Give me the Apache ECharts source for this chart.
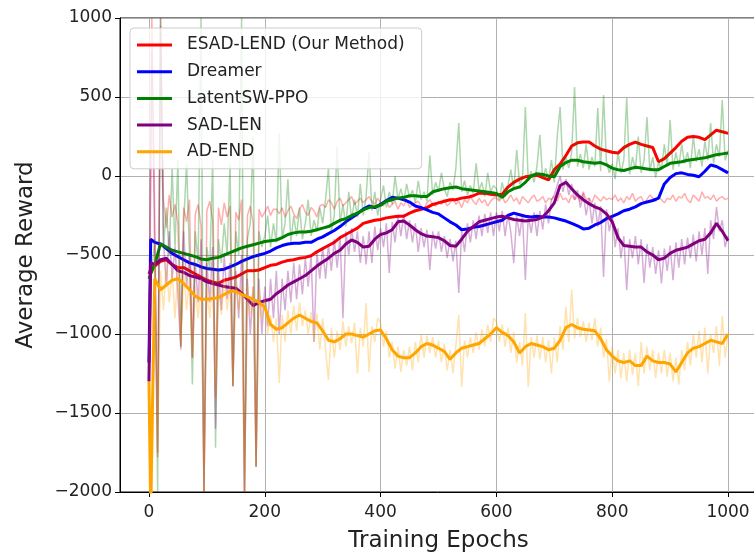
<!DOCTYPE html>
<html>
<head>
<meta charset="utf-8">
<script src="https://cdn.jsdelivr.net/npm/echarts@6/dist/echarts.min.js"></script>
<style>
  html, body { margin: 0; padding: 0; background: #fff; }
  #chart { width: 754px; height: 553px; }
</style>
</head>
<body>
<div id="chart"></div>
<script>
// names of the methods, legend order
const methods = ['ESAD-LEND (Our Method)', 'Dreamer', 'LatentSW-PPO', 'SAD-LEN', 'AD-END']
const colors = ['#ff0000', '#0000ff', '#008000', '#800080', '#ffa500']

const xTicks = [0, 200, 400, 600, 800, 1000]

// smoothed curves: epochs 0, 3, then every 10
const smoothEpochs = [0, 3].concat(Array.from({ length: 100 }, (_, i) => (i + 1) * 10))

const redSmooth = [-620, -590,
  -570, -540, -530, -560, -580, -580, -600, -620, -640, -660,
  -670, -680, -660, -650, -640, -620, -600, -600, -595, -580,
  -565, -560, -545, -535, -530, -520, -515, -505, -480, -460,
  -440, -420, -390, -370, -350, -330, -300, -290, -280, -275,
  -265, -260, -255, -255, -235, -220, -210, -200, -180, -170,
  -160, -150, -150, -140, -135, -125, -108, -110, -115, -120,
  -115, -70, -40, -20, -5, 0, 5, -10, -25, 40,
  75, 130, 190, 210, 215, 215, 190, 170, 160, 150,
  145, 180, 200, 215, 200, 190, 180, 90, 110, 145,
  180, 220, 245, 250, 245, 230, 260, 290, 280, 270]

const blueSmooth = [-1180, -400,
  -420, -430, -460, -490, -510, -530, -550, -560, -575, -585,
  -590, -595, -590, -575, -560, -540, -525, -510, -500, -490,
  -475, -455, -440, -430, -425, -425, -420, -420, -400, -385,
  -365, -345, -320, -290, -265, -240, -210, -190, -200, -180,
  -155, -135, -140, -150, -165, -190, -200, -215, -230, -240,
  -265, -290, -310, -340, -335, -325, -320, -310, -300, -290,
  -280, -250, -235, -245, -255, -260, -255, -260, -260, -265,
  -275, -285, -300, -315, -335, -330, -310, -295, -270, -255,
  -240, -220, -210, -195, -175, -165, -155, -140, -50, -10,
  15, 20, 10, 5, -5, 30, 70, 60, 40, 20]

const greenSmooth = [-650, -620,
  -560, -430, -450, -470, -480, -490, -500, -510, -525, -530,
  -520, -515, -500, -485, -470, -455, -445, -435, -425, -415,
  -410, -405, -390, -370, -360, -355, -355, -350, -340, -330,
  -320, -300, -280, -270, -250, -235, -215, -200, -195, -185,
  -160, -150, -140, -135, -125, -125, -130, -130, -100, -90,
  -80, -75, -70, -80, -85, -90, -95, -100, -105, -110,
  -135, -100, -80, -70, -40, 0, 15, 10, 0, -5,
  60, 85, 100, 100, 90, 85, 80, 85, 70, 50,
  40, 35, 45, 55, 50, 45, 40, 40, 60, 80,
  85, 90, 100, 105, 110, 115, 125, 135, 140, 145]

const purpleSmooth = [-1300, -550,
  -560, -530, -520, -560, -600, -610, -630, -640, -650, -670,
  -680, -690, -700, -705, -710, -740, -780, -820, -800, -790,
  -780, -745, -720, -690, -670, -650, -630, -600, -570, -545,
  -520, -490, -470, -430, -405, -420, -450, -445, -400, -370,
  -360, -340, -290, -285, -310, -340, -365, -380, -385, -390,
  -410, -440, -445, -400, -350, -320, -290, -280, -270, -260,
  -255, -265, -275, -280, -285, -280, -275, -260, -220, -170,
  -60, -40, -80, -120, -150, -175, -195, -210, -240, -290,
  -390, -440, -445, -450, -450, -480, -500, -530, -520, -490,
  -470, -460, -450, -430, -410, -400, -360, -300, -350, -410]

const orangeSmooth = [-1300, -2100,
  -650, -720, -690, -660, -650, -680, -720, -760, -780, -780,
  -775, -770, -750, -730, -730, -750, -765, -780, -800, -830,
  -940, -970, -960, -930, -900, -880, -900, -920, -930, -980,
  -1040, -1050, -1030, -1000, -1000, -1010, -1020, -1000, -980, -975,
  -1030, -1100, -1140, -1150, -1150, -1120, -1080, -1060, -1070, -1090,
  -1110, -1160, -1120, -1090, -1080, -1070, -1060, -1030, -1000, -960,
  -990, -1010, -1050, -1120, -1080, -1060, -1070, -1080, -1100, -1090,
  -1040, -960, -940, -960, -970, -975, -980, -1030, -1100, -1140,
  -1170, -1180, -1170, -1200, -1200, -1140, -1170, -1180, -1180, -1190,
  -1240, -1180, -1120, -1090, -1080, -1060, -1040, -1050, -1060, -1000]

// raw (unsmoothed) rewards, every 5 epochs
const rawEpochs = Array.from({ length: 201 }, (_, i) => i * 5)

const redRaw = [
  -1250, 1000, -250, -1780, 1000, -150, -330, -120, -260, -180, -300, -1080, -200, -290, -150, -1150, -240, -180, -320, -2000,
  -220, -160, -280, -1400, -200, -310, -170, -260, -190, -1330, -230, -280, -150, -2000, -250, -190, -300, -1840, -210, -260,
  -230, -190, -250, -210, -210, -240, -200, -260, -220, -190, -240, -270, -210, -180, -230, -250, -200, -220, -260, -190,
  -180, -200, -150, -170, -210, -160, -140, -190, -170, -150, -130, -180, -160, -140, -170, -150, -130, -160, -180, -140,
  -170, -190, -150, -200, -180, -160, -210, -170, -190, -150, -200, -180, -170, -160, -190, -210, -170, -150, -180, -190,
  -160, -180, -150, -190, -170, -140, -180, -160, -200, -150, -170, -130, -160, -180, -140, -170, -150, -190, -160, -140,
  -140, -160, -130, -170, -150, -120, -160, -140, -180, -130, -150, -170, -140, -120, -160, -150, -130, -170, -140, -150,
  -130, -160, -110, -150, -140, -170, -120, -150, -130, -160, -100, -150, -140, -170, -120, -140, -160, -130, -150, -140,
  -150, -120, -160, -140, -170, -130, -150, -110, -160, -140, -130, -170, -150, -120, -140, -160, -130, -150, -170, -140,
  -150, -120, -160, -130, -140, -110, -150, -170, -120, -140, -160, -100, -140, -130, -150, -120, -160, -140, -130, -150,
  -140]

const greenRaw = [
  -650, -600, -400, -2000, 1000, -450, -200, -500, 50, -450, 100, -1080, -300, 80, -500, -1320, -350, -550, 1000, -2000,
  -450, -600, 100, -1720, -400, -550, -300, -500, 80, -1330, -350, -500, 1000, -2000, -400, -300, 250, -1840, -350, -450,
  -380, -250, -450, -300, -420, 270, -400, -300, -20, -420, -250, -380, -200, -400, -300, -150, -380, -280, -350, -200,
  -300, -150, 50, -350, -250, 185, -300, -180, -320, -100, -280, -150, -260, -50, -250, -130, 150, -220, -100, -250,
  -150, -60, -200, -100, -180, 0, -150, -80, -160, -50, -140, -90, -170, -30, -150, -100, -160, 130, -120, -40,
  -100, 20, -80, -130, -40, -90, 50, 335, -100, -30, -120, -60, -110, 80, -90, -40, -130, 20, -100, -60,
  -80, -150, -40, -130, -60, 40, -90, 165, -50, -20, 437, -30, 30, -40, 60, 260, -20, 50, -30, 100,
  -40, 250, 437, 40, 120, 50, 150, 563, 60, 140, 50, 200, 40, 120, 60, 430, 30, 512, 90, 20,
  80, -20, 150, 20, 100, 494, 10, 120, 40, 250, 20, 100, 373, 30, 120, -10, 90, 40, 200, 60,
  354, 40, 150, 60, 200, 80, 150, 50, 250, 90, 170, 60, 220, 100, 335, 80, 200, 120, 481, 100,
  160]

const purpleRaw = [
  -1300, 800, -500, -1750, 950, -400, -700, -350, -650, -450, -750, -1100, -350, -700, -500, -1150, -550, -800, -400, -2000,
  -550, -800, -450, -1600, -600, -850, -500, -780, -550, -1330, -600, -900, -500, -2000, -650, -1000, -700, -1840, -650, -1000,
  -700, -950, -650, -900, -600, -1000, -650, -850, -600, -800, -550, -780, -560, -750, -520, -700, -500, -1050, -480, -650,
  -450, -650, -430, -600, -400, -580, -380, -900, -350, -500, -330, -480, -350, -550, -380, -560, -350, -550, -320, -470,
  -330, -450, -300, -614, -290, -420, -250, -380, -240, -400, -280, -420, -300, -480, -330, -450, -340, -595, -350, -460,
  -350, -480, -380, -520, -400, -540, -410, -741, -350, -480, -300, -420, -280, -400, -250, -380, -240, -360, -230, -380,
  -230, -350, -220, -380, -240, -360, -551, -250, -380, -240, -658, -250, -360, -230, -380, -220, -340, -180, -300, -150,
  -120, -60, 0, -100, -20, -120, -50, -150, -90, -200, -110, -250, -140, -300, -170, -320, -190, -639, -210, -350,
  -250, -450, -330, -520, -380, -721, -400, -520, -380, -560, -400, -677, -430, -580, -450, -620, -470, -680, -460, -600,
  -440, -660, -420, -580, -400, -560, -390, -520, -370, -540, -350, -500, -330, -620, -280, -400, -196, -350, -280, -450,
  -380]

const orangeRaw = [
  -1300, -2100, -500, -1750, -600, -850, -550, -800, -600, -900, -580, -1080, -600, -850, -650, -1150, -700, -900, -650, -2000,
  -700, -900, -650, -1400, -700, -880, -650, -850, -680, -1330, -650, -850, -700, -2000, -700, -880, -700, -1840, -720, -900,
  -780, -1000, -880, -1050, -900, -1310, -880, -1050, -850, -1000, -820, -980, -800, -950, -850, -1000, -860, -1050, -870, -1100,
  -900, -1100, -1290, -960, -1150, -980, -1100, -920, -1080, -950, -1060, -930, -1250, -960, -1080, -804, -1240, -950, -1050, -900,
  -930, -1080, -980, -1150, -1050, -1220, -1080, -1240, -1100, -1200, -1080, -1230, -1050, -1180, -1000, -1150, -1010, -1120, -1020, -1150,
  -1040, -1180, -1060, -1230, -1100, -1250, -1070, -880, -1335, -1040, -1150, -1020, -1120, -990, -1100, -970, -1080, -940, -1050, -900,
  -920, -1050, -940, -1080, -960, -1120, -990, -1180, -1050, -1200, -867, -1335, -1020, -1150, -1010, -1160, -1020, -1180, -1040, -1250,
  -1020, -1180, -950, -1100, -829, -1050, -721, -1030, -900, -1020, -920, -1050, -930, -1040, -900, -1080, -960, -1150, -1030, -1300,
  -1080, -1250, -1100, -1280, -1120, -1300, -1100, -1260, -1120, -1330, -1050, -1250, -1080, -1230, -1100, -1280, -1120, -1250, -1100, -1270,
  -1120, -1300, -1150, -1320, -1100, -1230, -1050, -1200, -1000, -1150, -980, -1180, -960, -1250, -1000, -1120, -950, -1200, -885, -1150,
  -1000]

const smoothData = [redSmooth, blueSmooth, greenSmooth, purpleSmooth, orangeSmooth]
const rawData = [redRaw, null, greenRaw, purpleRaw, orangeRaw]

const chart = echarts.init(document.getElementById('chart'))

const pairs = (xs, ys) => xs.map((x, i) => [x, ys[i]])
const minus = v => (v < 0 ? '\u2212' + (-v) : String(v))

const series = []
methods.forEach((name, i) => {
  if (rawData[i]) {
    series.push({
      name: name + ' raw',
      type: 'line',
      data: pairs(rawEpochs, rawData[i]),
      showSymbol: false,
      silent: true,
      lineStyle: { color: colors[i], width: 1.5, opacity: 0.32 },
      itemStyle: { color: colors[i] }
    })
  }
  series.push({
    name: name,
    type: 'line',
    data: pairs(smoothEpochs, smoothData[i]),
    showSymbol: false,
    lineStyle: { color: colors[i], width: 3 },
    itemStyle: { color: colors[i] }
  })
})

chart.setOption({
  animation: false,
  backgroundColor: '#fff',
  textStyle: { fontFamily: 'DejaVu Sans' },
  grid: {
    left: 120,
    right: -3,
    top: 18,
    bottom: 61,
    outerBoundsMode: 'none',
    containLabel: false,
    show: true,
    borderColor: '#000',
    borderWidth: 1
  },
  legend: {
    data: methods,
    orient: 'vertical',
    left: 130,
    top: 28,
    padding: [7, 17, 7, 7],
    itemWidth: 35,
    itemHeight: 3,
    itemGap: 6.7,
    icon: 'rect',
    backgroundColor: 'rgba(255,255,255,0.8)',
    borderColor: '#cccccc',
    borderWidth: 1,
    borderRadius: 4,
    textStyle: { fontSize: 17, lineHeight: 20, color: '#222', fontFamily: 'DejaVu Sans', padding: [0, 0, 0, 10] }
  },
  xAxis: {
    type: 'value',
    min: -50,
    max: 1050,
    name: 'Training Epochs',
    nameLocation: 'middle',
    nameGap: 38,
    nameTextStyle: { fontSize: 23, color: '#222' },
    axisLine: { show: true, onZero: false, lineStyle: { color: '#000' } },
    axisTick: { show: true, length: 5, lineStyle: { color: '#000' }, customValues: xTicks },
    axisLabel: { fontSize: 17, color: '#222', margin: 12, customValues: xTicks, formatter: v => String(v) },
    splitLine: { show: true, lineStyle: { color: '#b0b0b0', width: 1 } }
  },
  yAxis: {
    type: 'value',
    min: -2000,
    max: 1000,
    interval: 500,
    name: 'Average Reward',
    nameLocation: 'middle',
    nameGap: 82,
    nameTextStyle: { fontSize: 23, color: '#222' },
    axisLine: { show: true, onZero: false, lineStyle: { color: '#000' } },
    axisTick: { show: true, length: 5, lineStyle: { color: '#000' } },
    axisLabel: { fontSize: 17, color: '#222', margin: 8, formatter: minus },
    splitLine: { show: true, lineStyle: { color: '#b0b0b0', width: 1 } }
  },
  series: series
})
</script>
</body>
</html>
